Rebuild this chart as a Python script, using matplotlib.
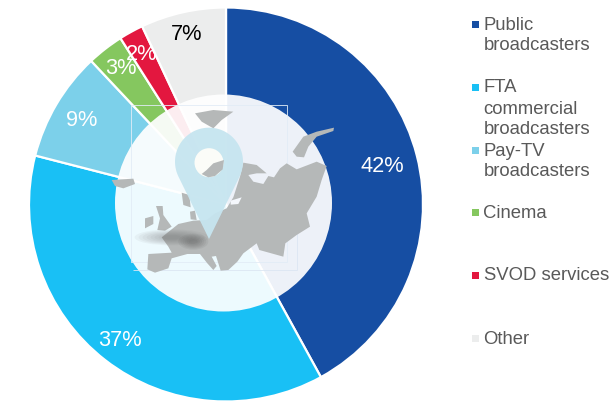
import numpy as np
import matplotlib
matplotlib.use("Agg")
import matplotlib.pyplot as plt
from matplotlib.patches import Circle, Polygon, Ellipse, Rectangle, PathPatch
from matplotlib.path import Path

plt.rcParams['font.family'] = ['Liberation Sans', 'DejaVu Sans']

categories = ["Public\nbroadcasters", "FTA\ncommercial\nbroadcasters", "Pay-TV\nbroadcasters",
              "Cinema", "SVOD services", "Other"]
values = [42, 37, 9, 3, 2, 7]
labels = ["42%", "37%", "9%", "3%", "2%", "7%"]
colors = ["#164EA3", "#19C0F5", "#7CD0EA", "#85C75F", "#E3173F", "#ECEDED"]
label_colors = ["white", "white", "white", "white", "white", "black"]

W, H = 614, 401
fig = plt.figure(figsize=(W / 100, H / 100), dpi=100)
ax = fig.add_axes([0, 0, 1, 1])

def P(x, y):
    return (x, H - y)

def Z(pts):
    """decor coordinates from the enlarged crop to figure space"""
    return [P(x / 3 + 100, y / 3 + 80) for x, y in pts]

wedges, _ = ax.pie(values, colors=colors, startangle=90, counterclock=False,
                   center=P(226, 204.5), radius=197,
                   wedgeprops=dict(edgecolor="white", linewidth=1.6))
ax.set_xlim(0, W)
ax.set_ylim(0, H)
ax.set_aspect("equal")
ax.axis("off")

# translucent globe disc over the pie
ax.add_patch(Circle(P(223.5, 203), 108.5, fc="white", ec="none", alpha=0.93, zorder=3))

# thin frames of the pasted picture
ax.add_patch(Polygon(Z([(92, 75), (560, 75), (560, 545), (92, 545)]), closed=True, fill=False,
                     ec="#E2ECF6", lw=0.6, zorder=3.1))
ax.add_patch(Polygon(Z([(590, 408), (590, 571), (100, 571)]), closed=False, fill=False,
                     ec="#DCE6F3", lw=0.6, zorder=3.1))

land = "#B5B8B8"
mainland = [(145, 522), (142, 568), (165, 578), (205, 565), (215, 535), (262, 522), (300, 522),
            (322, 550), (340, 570), (350, 558), (335, 530), (348, 528), (362, 572), (385, 570),
            (412, 545), (430, 520), (470, 490), (478, 510), (550, 530), (556, 490), (590, 465),
            (630, 440), (620, 400), (650, 350), (665, 300), (680, 258), (650, 245), (590, 268),
            (560, 250), (540, 265), (522, 292), (505, 288), (490, 312), (460, 305), (445, 285),
            (470, 280), (500, 280), (470, 255), (430, 248), (420, 290), (400, 352), (380, 385),
            (345, 400), (320, 420), (280, 422), (235, 432), (185, 472), (205, 500), (215, 518)]
islands = [
    [(245, 338), (250, 375), (272, 382), (268, 345)],
    [(270, 395), (285, 392), (290, 420), (272, 418)],
    [(168, 378), (188, 378), (190, 405), (215, 440), (195, 452), (172, 450), (180, 415)],
    [(135, 415), (160, 408), (160, 432), (135, 445)],
    [(35, 300), (100, 296), (105, 312), (70, 325), (45, 318)],
    [(285, 100), (340, 90), (400, 95), (365, 120), (340, 145), (305, 125)],
    [(578, 215), (610, 170), (650, 155), (702, 143), (700, 153), (650, 170), (625, 200), (612, 232), (590, 230)],
    [(425, 345), (440, 343), (445, 360), (430, 358)],
]
ax.add_patch(Polygon(Z(mainland), closed=True, fc=land, ec="none", zorder=3.2))
for isl in islands:
    ax.add_patch(Polygon(Z(isl), closed=True, fc=land, ec="none", zorder=3.2))
# sea inlet near the Black Sea
ax.add_patch(Polygon(Z([(392, 362), (425, 352), (415, 372), (392, 374)]), closed=True,
                     fc="#F4F7FC", ec="none", zorder=3.25))

# soft shadow under the pin
for scale in np.linspace(1, 0.25, 8):
    ax.add_patch(Ellipse(P(100 + 215 / 3, 80 + 472 / 3), 74 * scale, 16 * scale,
                         fc="#666666", ec="none", alpha=0.06, zorder=3.3))
for scale in np.linspace(1, 0.3, 6):
    ax.add_patch(Ellipse(P(100 + 280 / 3, 80 + 485 / 3), 30 * scale, 16 * scale,
                         fc="#555555", ec="none", alpha=0.09, zorder=3.3))

# map pin
cx, cy = 327 / 3 + 100, 245 / 3 + 80
r = 34
tip = P(cx, 477 / 3 + 80)
theta = np.linspace(np.radians(-25), np.radians(205), 60)
arc = [P(cx + r * np.cos(t), cy - r * np.sin(t)) for t in theta]
pin = Path(arc + [tip, arc[0]], closed=False)
ax.add_patch(PathPatch(pin, fc="#C6E5F0", ec="none", alpha=0.95, zorder=3.4))
ax.add_patch(Circle(P(cx, cy + 1), 14.5, fc="#FBFCF8", ec="none", zorder=3.5))
ax.add_patch(Polygon(Z([(305, 282), (320, 270), (340, 250), (372, 240), (368, 268), (345, 288), (325, 292)]),
                     closed=True, fc=land, ec="none", zorder=3.6))

# value labels
label_pos = [(382.5, 166), (120, 340), (82, 121), (121, 68), (142, 54), (187, 35)]
for txt, col, (x, y) in zip(labels, label_colors, label_pos):
    ax.text(*P(x, y), txt, color=col, fontsize=15.7, ha="center", va="center", zorder=5)

# legend
legend_y = [24, 87, 150, 212, 275, 338]
for name, col, y in zip(categories, colors, legend_y):
    ax.add_patch(Rectangle(P(471.5, y + 3.5), 7, 7, fc=col, ec="none", zorder=5))
    for i, line in enumerate(name.split("\n")):
        ax.text(*P(483.5, y + 21 * i + 1), line, color="#595959", fontsize=13.3,
                ha="left", va="center", zorder=5)

fig.savefig("out.png", dpi=100, facecolor="white")
